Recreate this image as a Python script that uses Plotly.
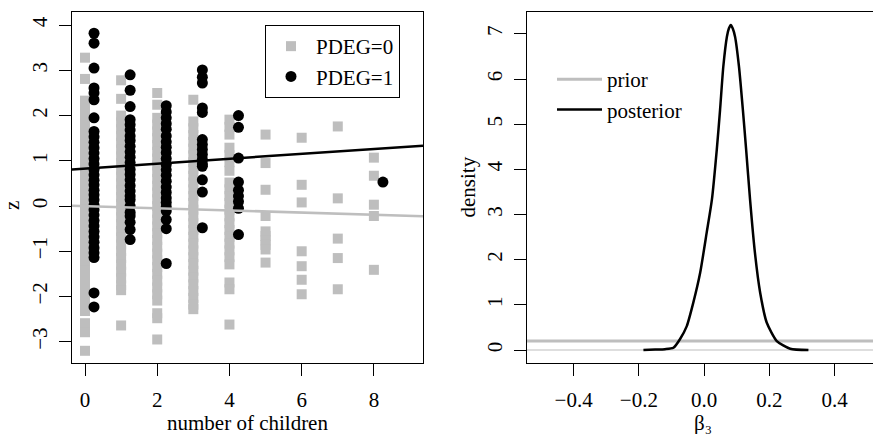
import plotly.graph_objects as go

# ---------------- data ----------------
# PDEG=0 : grey squares, one list of z values per number of children
children_pdeg0 = [0, 1, 2, 3, 4, 5, 6, 7, 8]
z_pdeg0 = [
    [3.28, 2.81, 2.33, 2.18, 2.03, 1.88, 1.73, 1.58, 1.43, 1.28, 1.13, 0.98, 0.83, 0.68, 0.53,
     0.38, 0.23, 0.08, -0.07, -0.22, -0.37, -0.52, -0.67, -0.82, -0.97, -1.12, -1.27, -1.42,
     -1.57, -1.72, -1.87, -2.02, -2.17, -2.32, -2.59, -2.79, -3.20],
    [2.78, 2.37, 2.00, 1.85, 1.70, 1.55, 1.40, 1.25, 1.10, 0.95, 0.80, 0.65, 0.50, 0.35, 0.20,
     0.05, -0.10, -0.25, -0.40, -0.55, -0.70, -0.85, -1.00, -1.15, -1.30, -1.45, -1.60, -1.75,
     -1.86, -2.64],
    [2.50, 2.24, 1.95, 1.80, 1.65, 1.50, 1.35, 1.20, 1.05, 0.90, 0.75, 0.60, 0.45, 0.30, 0.15,
     0.00, -0.15, -0.30, -0.45, -0.60, -0.75, -0.90, -1.05, -1.20, -1.35, -1.50, -1.65, -1.80,
     -1.95, -2.09, -2.37, -2.48, -2.95],
    [2.35, 1.87, 1.72, 1.57, 1.42, 1.27, 1.12, 0.97, 0.82, 0.67, 0.52, 0.37, 0.22, 0.07, -0.08,
     -0.23, -0.38, -0.53, -0.68, -0.83, -0.98, -1.13, -1.28, -1.43, -1.58, -1.73, -1.88, -2.03,
     -2.18, -2.28],
    [1.91, 1.75, 1.58, 1.29, 1.13, 0.97, 0.78, 0.52, 0.37, 0.22, 0.07, -0.08, -0.23, -0.38,
     -0.53, -0.68, -0.83, -0.98, -1.13, -1.29, -1.69, -1.84, -2.62],
    [1.58, 0.95, 0.36, -0.22, -0.56, -0.66, -0.76, -0.86, -0.96, -1.25],
    [1.51, 0.47, 0.08, -1.00, -1.33, -1.63, -1.95],
    [1.76, 0.17, -0.72, -1.15, -1.84],
    [1.07, 0.67, 0.03, -0.22, -1.41],
]

# PDEG=1 : black circles (plotted at children + 0.25)
children_pdeg1 = [0.25, 1.25, 2.25, 3.25, 4.25, 8.25]
z_pdeg1 = [
    [3.82, 3.60, 3.05, 2.61, 2.50, 2.35, 1.95, 1.65, 1.53, 1.41, 1.29, 1.17, 1.05, 0.93, 0.81,
     0.69, 0.57, 0.47, 0.35, 0.25, 0.14, 0.02, -0.08, -0.20, -0.32, -0.44, -0.56, -0.68, -0.80,
     -0.92, -1.03, -1.14, -1.92, -2.23],
    [2.90, 2.56, 2.20, 1.91, 1.80, 1.68, 1.55, 1.45, 1.32, 1.20, 1.08, 0.96, 0.81, 0.70, 0.58,
     0.45, 0.33, 0.22, 0.14, 0.00, -0.14, -0.22, -0.36, -0.52, -0.74],
    [2.22, 2.08, 1.95, 1.82, 1.70, 1.55, 1.42, 1.30, 1.18, 1.05, 0.92, 0.80, 0.68, 0.55, 0.42,
     0.30, 0.18, 0.08, -0.02, -0.11, -0.30, -0.50, -1.27],
    [3.01, 2.85, 2.72, 2.17, 2.07, 1.47, 1.36, 1.25, 1.14, 1.03, 0.93, 0.88, 0.58, 0.31, -0.48],
    [2.00, 1.74, 1.06, 0.53, 0.35, 0.22, 0.10, -0.05, -0.63],
    [0.53],
]

# fitted regression lines (intercept, slope)
fit_pdeg0 = (0.00, -0.024)
fit_pdeg1 = (0.83, 0.054)

# right panel: densities of beta_3
beta_grid = [-0.186, -0.15, -0.12, -0.094, -0.074, -0.053, -0.033, -0.012, 0.008, 0.024,
             0.039, 0.049, 0.059, 0.070, 0.076, 0.082, 0.088, 0.095, 0.107, 0.119, 0.129,
             0.141, 0.156, 0.172, 0.192, 0.223, 0.264, 0.320]
posterior = [0.00, 0.01, 0.02, 0.05, 0.24, 0.53, 1.05, 1.71, 2.60, 3.33,
             4.44, 5.32, 6.28, 6.94, 7.12, 7.20, 7.12, 6.94, 6.28, 5.32, 4.44,
             3.33, 2.15, 1.27, 0.61, 0.20, 0.03, 0.00]
prior_grid = [-0.6, -0.4, -0.2, 0.0, 0.2, 0.4, 0.6]
prior = [0.20, 0.20, 0.20, 0.20, 0.20, 0.20, 0.20]

left_xticks = [0, 2, 4, 6, 8]
left_yticks = [-3, -2, -1, 0, 1, 2, 3, 4]
right_xticks = [-0.4, -0.2, 0.0, 0.2, 0.4]
right_yticks = [0, 1, 2, 3, 4, 5, 6, 7]

# ---------------- figure ----------------
W, H = 873, 434
FONT = "Liberation Serif"
FS = 21
GREY = "#bebebe"

xlim_left = [-0.36, 9.36]

fig = go.Figure()

x0, y0 = [], []
for c, zs in zip(children_pdeg0, z_pdeg0):
    x0 += [c] * len(zs)
    y0 += zs
x1, y1 = [], []
for c, zs in zip(children_pdeg1, z_pdeg1):
    x1 += [c] * len(zs)
    y1 += zs

fig.add_trace(go.Scatter(x=x0, y=y0, mode="markers", name="PDEG=0",
                         marker=dict(symbol="square", size=10, color=GREY, line=dict(width=0)),
                         xaxis="x", yaxis="y", legend="legend"))
fig.add_trace(go.Scatter(x=x1, y=y1, mode="markers", name="PDEG=1",
                         marker=dict(symbol="circle", size=11, color="black", line=dict(width=0)),
                         xaxis="x", yaxis="y", legend="legend"))
for (a, b), col in [(fit_pdeg0, GREY), (fit_pdeg1, "black")]:
    fig.add_trace(go.Scatter(x=xlim_left, y=[a + b * v for v in xlim_left], mode="lines",
                             line=dict(color=col, width=2.5), showlegend=False,
                             xaxis="x", yaxis="y"))

# right panel
fig.add_trace(go.Scatter(x=[-0.6, 0.6], y=[0, 0], mode="lines", line=dict(color="#d3d3d3", width=1.5),
                         showlegend=False, xaxis="x2", yaxis="y2"))
fig.add_trace(go.Scatter(x=prior_grid, y=prior, mode="lines", name="prior",
                         line=dict(color=GREY, width=3), xaxis="x2", yaxis="y2", legend="legend2"))
fig.add_trace(go.Scatter(x=beta_grid, y=posterior, mode="lines", name="posterior",
                         line=dict(color="black", width=2.5, shape="spline", smoothing=0.6),
                         xaxis="x2", yaxis="y2", legend="legend2"))

axis_common = dict(showgrid=False, zeroline=False, showline=True, linecolor="black", linewidth=1,
                   ticks="outside", ticklen=12, tickwidth=1, tickcolor="black", automargin=False,
                   tickfont=dict(family=FONT, size=FS, color="black"))

fig.update_layout(
    template="none",
    width=W, height=H, margin=dict(l=0, r=0, t=0, b=0, pad=0, autoexpand=False),
    plot_bgcolor="white", paper_bgcolor="white",
    font=dict(family=FONT, size=FS, color="black"),
    xaxis=dict(domain=[72 / W, 423 / W], range=xlim_left, tickvals=left_xticks,
               mirror=True, ticklabelstandoff=6, anchor="y", **axis_common),
    yaxis=dict(domain=[(H - 363) / H, (H - 12) / H], range=[-3.47, 4.29], tickvals=left_yticks,
               mirror=True, tickangle=-90, ticklabelstandoff=4, anchor="x", **axis_common),
    xaxis2=dict(domain=[527 / W, 1.0], range=[-0.543, 0.518], tickvals=right_xticks,
                tickformat=".1f", mirror=True, ticklabelstandoff=6, anchor="y2", **axis_common),
    yaxis2=dict(domain=[(H - 363) / H, (H - 12) / H], range=[-0.287, 7.487], tickvals=right_yticks,
                mirror=False, tickangle=-90, ticklabelstandoff=4, anchor="x2", **axis_common),
    legend=dict(x=265 / W, y=1 - 25 / H, xanchor="left", yanchor="top",
                bordercolor="black", borderwidth=1, bgcolor="white", itemwidth=40,
                font=dict(family=FONT, size=FS), tracegroupgap=0, itemsizing="trace"),
    legend2=dict(x=552 / W, y=1 - 59 / H, xanchor="left", yanchor="top", itemwidth=45,
                 borderwidth=0, bgcolor="rgba(0,0,0,0)",
                 font=dict(family=FONT, size=FS), tracegroupgap=0),
    showlegend=True,
)

ann = dict(xref="paper", yref="paper", showarrow=False, font=dict(family=FONT, size=FS, color="black"))
fig.add_annotation(text="z", x=12 / W, y=1 - 206 / H, textangle=-90, xanchor="center", yanchor="middle", **ann)
fig.add_annotation(text="number of children", x=247.5 / W, y=1 - 423 / H, xanchor="center", yanchor="middle", **ann)
fig.add_annotation(text="density", x=468 / W, y=1 - 187.5 / H, textangle=-90, xanchor="center", yanchor="middle", **ann)
fig.add_annotation(text="β₃", x=703 / W, y=1 - 423 / H, xanchor="center", yanchor="middle", **ann)

fig.write_html("out.html", config={"displayModeBar": False},
               post_script="document.body.style.margin='0';document.body.style.overflow='hidden';")
